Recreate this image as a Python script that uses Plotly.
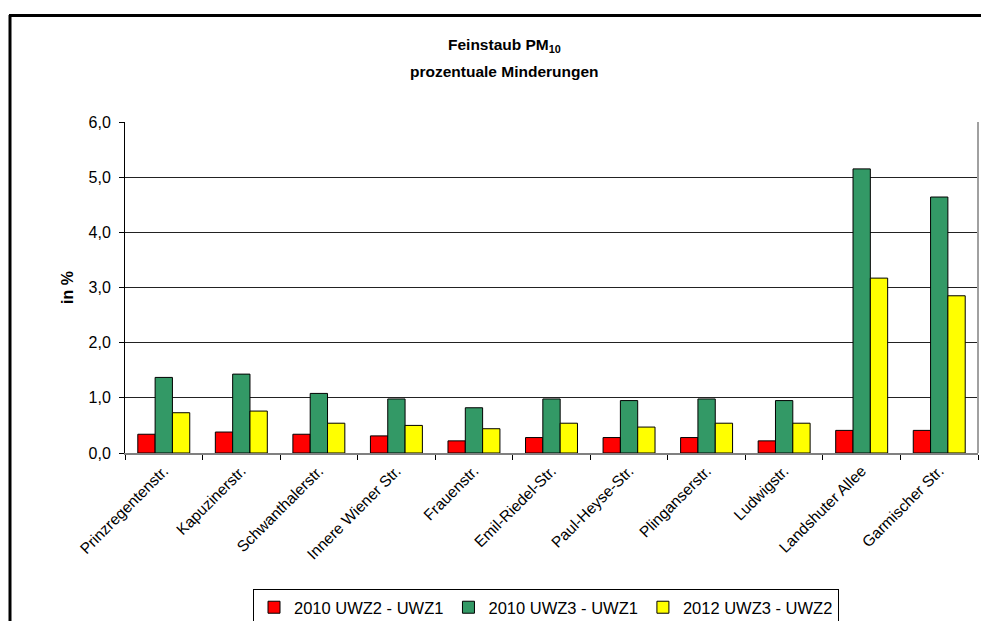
import plotly.graph_objects as go

# Messstellen (Straßen) und prozentuale Minderungen der PM10-Belastung
stations = [
    "Prinzregentenstr.", "Kapuzinerstr.", "Schwanthalerstr.", "Innere Wiener Str.",
    "Frauenstr.", "Emil-Riedel-Str.", "Paul-Heyse-Str.", "Plinganserstr.",
    "Ludwigstr.", "Landshuter Allee", "Garmischer Str.",
]
series_names = ["2010 UWZ2 - UWZ1", "2010 UWZ3 - UWZ1", "2012 UWZ3 - UWZ2"]
uwz2_uwz1_2010 = [0.34, 0.38, 0.34, 0.31, 0.22, 0.28, 0.28, 0.28, 0.22, 0.41, 0.41]
uwz3_uwz1_2010 = [1.37, 1.43, 1.08, 0.98, 0.82, 0.98, 0.95, 0.98, 0.95, 5.15, 4.64]
uwz3_uwz2_2012 = [0.73, 0.76, 0.54, 0.50, 0.44, 0.54, 0.47, 0.54, 0.54, 3.17, 2.85]
y_ticks = [0, 1, 2, 3, 4, 5, 6]

colors = ["#FF0000", "#339966", "#FFFF00"]
values = [uwz2_uwz1_2010, uwz3_uwz1_2010, uwz3_uwz2_2012]

FONT = "Liberation Sans, Arial, sans-serif"

fig = go.Figure()
for name, vals, col in zip(series_names, values, colors):
    fig.add_trace(go.Bar(
        x=stations, y=vals, name=name,
        marker=dict(color=col, line=dict(color="#000000", width=1)),
    ))

W, H = 981, 621
L, R, T, B = 125, 3, 122, 168
pw, ph = W - L - R, H - T - B


def px_x(px):
    return (px - L) / pw


def px_y(py):
    return (H - B - py) / ph


shapes = [
    # outer chart frame (left and top edges)
    dict(type="line", xref="paper", yref="paper", x0=px_x(10), x1=px_x(10),
         y0=px_y(15), y1=px_y(640), line=dict(color="#000000", width=3)),
    dict(type="line", xref="paper", yref="paper", x0=px_x(9), x1=px_x(1000),
         y0=px_y(15.5), y1=px_y(15.5), line=dict(color="#000000", width=3)),
    # plot area right edge
    dict(type="line", xref="paper", yref="paper", x0=1, x1=1, y0=0, y1=1,
         line=dict(color="#A0A0A0", width=2)),
]

annotations = [
    dict(text="<b>Feinstaub PM<sub>10</sub></b>", xref="paper", yref="paper",
         x=px_x(504), y=px_y(46), xanchor="center", yanchor="middle",
         showarrow=False, font=dict(family=FONT, size=15.5, color="#000000")),
    dict(text="<b>prozentuale Minderungen</b>", xref="paper", yref="paper",
         x=px_x(504), y=px_y(71), xanchor="center", yanchor="middle",
         showarrow=False, font=dict(family=FONT, size=15.5, color="#000000")),
]

fig.update_layout(
    width=W, height=H,
    margin=dict(l=L, r=R, t=T, b=B, autoexpand=False),
    paper_bgcolor="#FFFFFF", plot_bgcolor="#FFFFFF",
    separators=",.",
    barmode="group", bargap=0.33, bargroupgap=0,
    font=dict(family=FONT, color="#000000"),
    shapes=shapes, annotations=annotations,
    legend=dict(
        orientation="h", x=px_x(546), y=px_y(589), xanchor="center", yanchor="top",
        bordercolor="#000000", borderwidth=1, bgcolor="#FFFFFF",
        font=dict(family=FONT, size=16.5, color="#000000"),
        itemwidth=30, tracegroupgap=0,
    ),
    showlegend=True,
)

fig.update_xaxes(
    type="category", tickangle=-45, tickfont=dict(family=FONT, size=15.5),
    ticks="outside", tickson="boundaries", ticklen=5, tickcolor="#000000",
    ticklabelstandoff=1,
    showline=True, linecolor="#808080", linewidth=1.5,
    showgrid=False, zeroline=False,
)
fig.update_yaxes(
    range=[0, 6], tickvals=y_ticks, tickformat=".1f",
    tickfont=dict(family=FONT, size=16),
    ticks="outside", ticklen=5, tickcolor="#000000", ticklabelstandoff=5,
    showline=True, linecolor="#000000", linewidth=1,
    showgrid=True, gridcolor="#222222", gridwidth=1, zeroline=False,
    title=dict(text="<b>in %</b>", font=dict(family=FONT, size=16), standoff=10),
)

fig.write_html("out.html")
